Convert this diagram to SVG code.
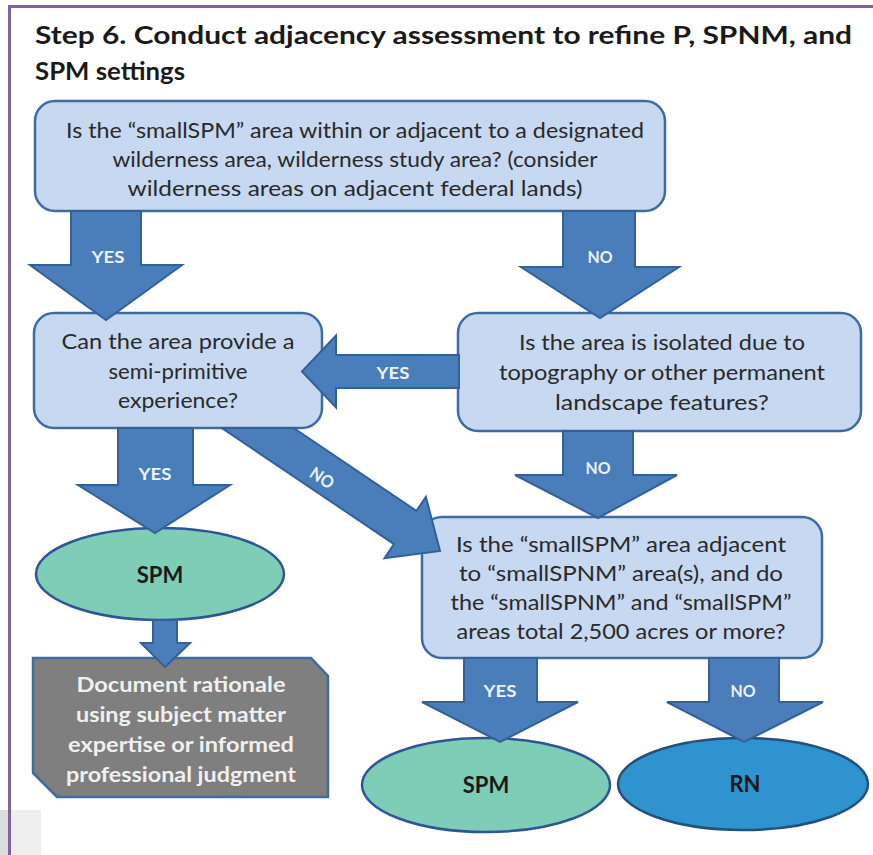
<svg xmlns="http://www.w3.org/2000/svg" width="873" height="855" viewBox="0 0 873 855">
<defs>
<style>
.box{fill:#c6d9f1;stroke:#3d6ca3;stroke-width:2.5}
.t{font-family:Lato,'Liberation Sans',sans-serif;font-size:21px;fill:#2a2a2a;text-anchor:middle}
.title{font-family:Lato,'Liberation Sans',sans-serif;font-size:24px;font-weight:bold;fill:#1a1a1a}
.arr{fill:#4a7ebb;stroke:#34609a;stroke-width:2;stroke-linejoin:miter}
.al{font-family:Lato,'Liberation Sans',sans-serif;font-size:17px;font-weight:bold;fill:#eef3fa;text-anchor:middle}
.spm{fill:#7dcdb7;stroke:#2f5597;stroke-width:2.5}
.rn{fill:#2f93cf;stroke:#24507c;stroke-width:2.5}
.el{font-family:Lato,'Liberation Sans',sans-serif;font-size:22px;font-weight:bold;fill:#1a1a1a;text-anchor:middle}
.gt{font-family:Lato,'Liberation Sans',sans-serif;font-size:21px;font-weight:bold;fill:#f0f0f0;text-anchor:middle}
</style>
</defs>
<rect width="873" height="855" fill="#ffffff"/>
<rect x="0" y="810" width="8" height="45" fill="#dcdcdc"/>
<rect x="11" y="810" width="30" height="45" fill="#efefef"/>
<rect x="8" y="5" width="865" height="3" fill="#8064a2"/>
<rect x="8" y="5" width="3" height="850" fill="#8064a2"/>
<g id="title">
<text class="title" x="35" y="44" textLength="817" lengthAdjust="spacingAndGlyphs">Step 6. Conduct adjacency assessment to refine P, SPNM, and</text>
<text class="title" x="35" y="80" textLength="150" lengthAdjust="spacingAndGlyphs">SPM settings</text>
</g>
<g id="q1">
<rect class="box" x="35" y="101" width="630" height="110" rx="20"/>
<text class="t" x="355" y="138" textLength="578" lengthAdjust="spacingAndGlyphs">Is the “smallSPM” area within or adjacent to a designated</text>
<text class="t" x="355" y="167" textLength="485" lengthAdjust="spacingAndGlyphs">wilderness area, wilderness study area? (consider</text>
<text class="t" x="355" y="196" textLength="455" lengthAdjust="spacingAndGlyphs">wilderness areas on adjacent federal lands)</text>
</g>
<g id="q2">
<rect class="box" x="34" y="313" width="288" height="115" rx="20"/>
<text class="t" x="178" y="349" textLength="233" lengthAdjust="spacingAndGlyphs">Can the area provide a</text>
<text class="t" x="178" y="379" textLength="139" lengthAdjust="spacingAndGlyphs">semi-primitive</text>
<text class="t" x="178" y="408" textLength="120" lengthAdjust="spacingAndGlyphs">experience?</text>
</g>
<g id="q3">
<rect class="box" x="458" y="313" width="403" height="118" rx="20"/>
<text class="t" x="662" y="350" textLength="286" lengthAdjust="spacingAndGlyphs">Is the area is isolated due to</text>
<text class="t" x="662" y="380" textLength="326" lengthAdjust="spacingAndGlyphs">topography or other permanent</text>
<text class="t" x="662" y="410" textLength="214" lengthAdjust="spacingAndGlyphs">landscape features?</text>
</g>
<g id="q4">
<rect class="box" x="422" y="517" width="400" height="141" rx="20"/>
<text class="t" x="621" y="552" textLength="330" lengthAdjust="spacingAndGlyphs">Is the “smallSPM” area adjacent</text>
<text class="t" x="621" y="581" textLength="324" lengthAdjust="spacingAndGlyphs">to “smallSPNM” area(s), and do</text>
<text class="t" x="621" y="610" textLength="341" lengthAdjust="spacingAndGlyphs">the “smallSPNM” and “smallSPM”</text>
<text class="t" x="621" y="639" textLength="329" lengthAdjust="spacingAndGlyphs">areas total 2,500 acres or more?</text>
</g>
<g id="spm1">
<ellipse class="spm" cx="160" cy="574" rx="124" ry="46"/>
<text class="el" x="160" y="583">SPM</text>
</g>
<g id="doc">
<polygon points="33,658 311,658 328,676 328,797 57,797 33,773" fill="#7f7f7f" stroke="#3d6ca3" stroke-width="2.5"/>
<text class="gt" x="181" y="692" textLength="209" lengthAdjust="spacingAndGlyphs">Document rationale</text>
<text class="gt" x="181" y="722" textLength="210" lengthAdjust="spacingAndGlyphs">using subject matter</text>
<text class="gt" x="181" y="752" textLength="226" lengthAdjust="spacingAndGlyphs">expertise or informed</text>
<text class="gt" x="181" y="782" textLength="230" lengthAdjust="spacingAndGlyphs">professional judgment</text>
</g>
<g id="spm2">
<ellipse class="spm" cx="486" cy="785" rx="124" ry="47"/>
<text class="el" x="486" y="793">SPM</text>
</g>
<g id="rn">
<ellipse class="rn" cx="743" cy="784" rx="125" ry="46"/>
<text class="el" x="745" y="792">RN</text>
</g>
<g id="connectors">
<path class="arr" d="M71,211 H141 V265 H182 L106,320 L30,265 H71 Z"/>
<path class="arr" d="M563,211 H635 V267 H679 L600,318 L521,267 H563 Z"/>
<path class="arr" d="M459,355 V388 H336 V407.5 L302,371.5 L336,335.5 V355 Z"/>
<path class="arr" d="M118,428 H193 V485 H230 L155,533 L78,485 H118 Z"/>
<path class="arr" d="M221.8,428 L293.5,428 L416.4,510.9 L425.9,496.8 L440,551 L384.5,558.2 L394,544.1 Z"/>
<path class="arr" d="M563,431 H633 V475 H677 L598,518 L515,475 H563 Z"/>
<path class="arr" d="M464,658 H537 V702 H578 L500,742 L422,702 H464 Z"/>
<path class="arr" d="M709,658 H779 V702 H823 L744,742 L667,702 H709 Z"/>
<path class="arr" d="M153,620 H177 V643 H190 L165,667 L141,643 H153 Z"/>
<text class="al" x="108" y="263" textLength="33" lengthAdjust="spacingAndGlyphs">YES</text>
<text class="al" x="600" y="263" textLength="25" lengthAdjust="spacingAndGlyphs">NO</text>
<text class="al" x="393" y="379" textLength="33" lengthAdjust="spacingAndGlyphs">YES</text>
<text class="al" x="155" y="480" textLength="33" lengthAdjust="spacingAndGlyphs">YES</text>
<text class="al" transform="translate(322,478) rotate(34)" x="0" y="6" textLength="25" lengthAdjust="spacingAndGlyphs">NO</text>
<text class="al" x="598" y="474" textLength="25" lengthAdjust="spacingAndGlyphs">NO</text>
<text class="al" x="500" y="697" textLength="33" lengthAdjust="spacingAndGlyphs">YES</text>
<text class="al" x="743" y="697" textLength="25" lengthAdjust="spacingAndGlyphs">NO</text>
</g>
</svg>
